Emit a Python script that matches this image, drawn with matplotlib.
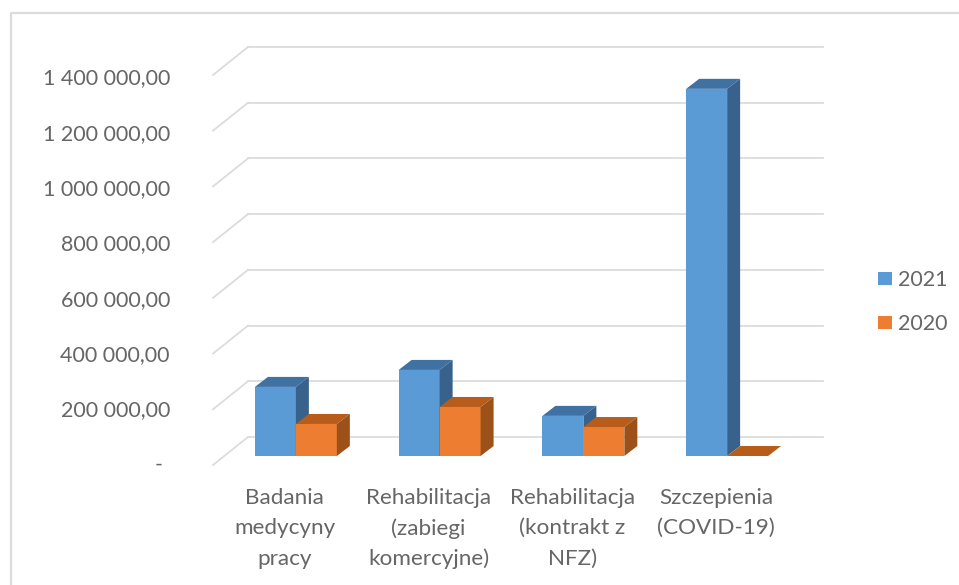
import matplotlib
matplotlib.use("Agg")
import matplotlib.pyplot as plt
from matplotlib.patches import Polygon, Rectangle
from matplotlib.transforms import Affine2D

categories = ["Badania\nmedycyny\npracy", "Rehabilitacja\n(zabiegi\nkomercyjne)",
              "Rehabilitacja\n(kontrakt z\nNFZ)", "Szczepienia\n(COVID-19)"]
values_2021 = [248000, 309000, 144000, 1318000]
values_2020 = [115000, 176000, 104000, 0]
ticks = [0, 200000, 400000, 600000, 800000, 1000000, 1200000, 1400000]
tick_labels = ["-", "200 000,00", "400 000,00", "600 000,00", "800 000,00",
               "1 000 000,00", "1 200 000,00", "1 400 000,00"]

W, H = 959, 585
plt.rcParams["font.family"] = ["Lato", "DejaVu Sans"]
fig = plt.figure(figsize=(W / 100, H / 100), dpi=100)

# axes = plane of the bar fronts, 0 sits at y=456 px
left, right, bottom, top = 224, 799, 456, 66
ax = fig.add_axes([left / W, 1 - bottom / H, (right - left) / W, (bottom - top) / H])
ax.set_xlim(-0.5, 3.5)
ax.set_ylim(0, 1400000)
ax.axis("off")

# pixel offsets for the fake 3d
front_dx, front_dy = -11, -9
back_dx, back_dy = 24, 19
depth_x, depth_y = 13, 10

grid = "#dcdcdc"
for t in ticks:
    # line along the back wall and the diagonal on the side wall
    ax.plot([-0.5, 3.5], [t, t], color=grid, lw=1.3, clip_on=False, zorder=1,
            transform=ax.transData + Affine2D().translate(back_dx, back_dy))
    p0 = ax.transData.transform((-0.5, t))
    ax.plot([p0[0] + front_dx, p0[0] + back_dx], [p0[1] + front_dy, p0[1] + back_dy],
            color=grid, lw=1.3, clip_on=False, zorder=1, transform=None)


def bar3d(x, val, w, c_front, c_top, c_side, z):
    ax.bar(x, val, w, color=c_front, zorder=z, clip_on=False)
    x0, y0 = ax.transData.transform((x - w / 2, 0))
    x1, y1 = ax.transData.transform((x + w / 2, val))
    dx, dy = depth_x, depth_y
    ax.add_patch(Polygon([(x0, y1), (x1, y1), (x1 + dx, y1 + dy), (x0 + dx, y1 + dy)],
                         closed=True, fc=c_top, ec="none", transform=None, zorder=z, clip_on=False))
    ax.add_patch(Polygon([(x1, y0), (x1 + dx, y0 + dy), (x1 + dx, y1 + dy), (x1, y1)],
                         closed=True, fc=c_side, ec="none", transform=None, zorder=z, clip_on=False))


w = 0.285
for i in range(4):
    bar3d(i - w / 2, values_2021[i], w, "#5b9bd5", "#3f71a3", "#38628b", 3)
    bar3d(i + w / 2, values_2020[i], w, "#ed7d31", "#b85c1c", "#9c5119", 4)

txt = "#666666"
size = 15.5
for t, lab in zip(ticks, tick_labels):
    if lab == "-":
        fig.text(155 / W, 1 - 465 / H, lab, ha="left", va="center", color=txt, fontsize=size)
    else:
        yy = 76.5 + (1400000 - t) / 200000 * 55.3
        fig.text(170 / W, 1 - yy / H, lab, ha="right", va="center_baseline", color=txt, fontsize=size)

for i, c in enumerate(categories):
    px = ax.transData.transform((i, 0))[0] + front_dx
    for j, line in enumerate(c.split("\n")):
        fig.text(px / W, 1 - (496 + j * 30.3) / H, line, ha="center", va="center_baseline",
                 color=txt, fontsize=16.2)

# legend
for yy, col, lab in [(278, "#5b9bd5", "2021"), (322, "#ed7d31", "2020")]:
    fig.add_artist(Rectangle((878 / W, 1 - (yy + 6.5) / H), 14 / W, 13 / H, fc=col, ec="none",
                             transform=fig.transFigure))
    fig.text(898 / W, 1 - yy / H, lab, ha="left", va="center_baseline", color=txt, fontsize=size)

# chart border
fig.add_artist(plt.Line2D([11 / W, 11 / W, 1], [0, 1 - 13 / H, 1 - 13 / H], color="#dcdcdc", lw=1.6))

fig.savefig("out.png", dpi=100)
